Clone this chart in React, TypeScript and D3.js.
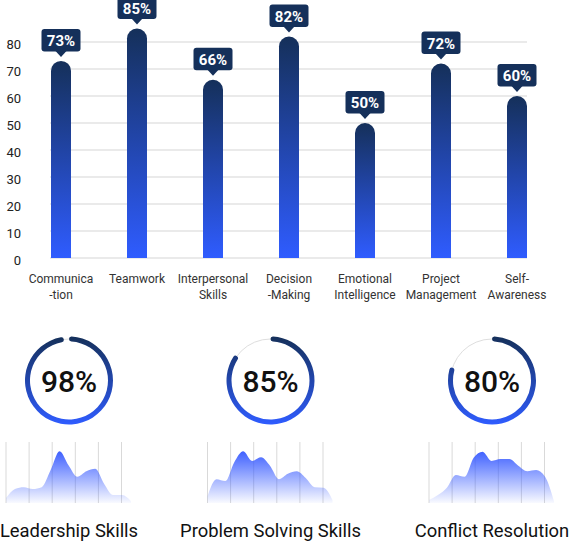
import React from "react";
import * as d3 from "d3";

const categories = [
  ["Communica", "-tion"],
  ["Teamwork"],
  ["Interpersonal", "Skills"],
  ["Decision", "-Making"],
  ["Emotional", "Intelligence"],
  ["Project", "Management"],
  ["Self-", "Awareness"],
];
const values = [73, 85, 66, 82, 50, 72, 60];
const yTicks = [0, 10, 20, 30, 40, 50, 60, 70, 80];

const gaugeTitles = ["Leadership Skills", "Problem Solving Skills", "Conflict Resolution"];
const gaugeValues = [98, 85, 80];
const sparkLeadership = [8, 23, 26, 23, 26, 54, 85, 62, 43, 52, 56, 31, 13, 13, 3];
const sparkProblem = [11, 39, 36, 67, 85, 69, 75, 61, 39, 48, 52, 41, 26, 25, 5];
const sparkConflict = [5, 13, 25, 46, 43, 74, 84, 69, 72, 72, 61, 52, 54, 43, 3];
const sparkSeries = [sparkLeadership, sparkProblem, sparkConflict];

const FONT = "Roboto, 'Noto Sans', sans-serif";
const DARK = "#15305a";
const BLUE = "#2f5cff";

export default function App() {
  const W = 570;
  const H = 542;
  const x = d3
    .scalePoint<number>()
    .domain(d3.range(categories.length))
    .range([61, 517]);
  const y = d3.scaleLinear().domain([0, 80]).range([258, 42]);
  const barW = 20;

  const colX = [69, 270.5, 492];
  const gaugeCY = 380.5;
  const gaugeR = 41.5;
  const ringW = 5;

  const sparkY = d3.scaleLinear().domain([0, 100]).range([503, 442]);

  return (
    <svg width={W} height={H} style={{ position: "absolute", left: 0, top: 0 }} fontFamily={FONT}>
      <defs>
        <linearGradient id="barGrad" x1="0" y1="0" x2="0" y2="1">
          <stop offset="0" stopColor={DARK} />
          <stop offset="1" stopColor={BLUE} />
        </linearGradient>
        <linearGradient id="ringGrad" x1="0" y1="0" x2="0" y2="1">
          <stop offset="0" stopColor={DARK} />
          <stop offset="1" stopColor={BLUE} />
        </linearGradient>
        <linearGradient id="areaGrad" gradientUnits="userSpaceOnUse" x1="0" y1="448" x2="0" y2="503">
          <stop offset="0" stopColor="#3357ff" stopOpacity="1" />
          <stop offset="1" stopColor="#3357ff" stopOpacity="0.03" />
        </linearGradient>
      </defs>

      {/* gridlines */}
      {yTicks.map((t) => (
        <g key={t}>
          <line x1={50} x2={527} y1={y(t)} y2={y(t)} stroke="#e3e3e3" strokeWidth={1.5} />
          <text x={21} y={y(t) + 6.5} textAnchor="end" fontSize={13} fill="#222">
            {t}
          </text>
        </g>
      ))}

      {/* bars */}
      {values.map((v, i) => {
        const cx = x(i)!;
        const top = y(v);
        const bottom = y(0);
        const r = barW / 2;
        const path = `M${cx - r},${bottom} L${cx - r},${top + r} A${r},${r} 0 0 1 ${cx + r},${top + r} L${cx + r},${bottom} Z`;
        const tip = top - 4;
        const boxB = tip - 5.5;
        const boxT = boxB - 22.5;
        const boxW = 39;
        return (
          <g key={i}>
            <path d={path} fill="url(#barGrad)" />
            <rect x={cx - boxW / 2} y={boxT} width={boxW} height={boxB - boxT} rx={3} fill={DARK} />
            <path d={`M${cx - 5.5},${boxB - 0.5} L${cx + 5.5},${boxB - 0.5} L${cx},${tip} Z`} fill={DARK} />
            <text x={cx} y={boxB - 5.5} textAnchor="middle" fontSize={15} fontWeight={700} fill="#fff">
              {v}%
            </text>
            {categories[i].map((line, j) => (
              <text key={j} x={cx} y={282.5 + j * 16} textAnchor="middle" fontSize={12} fill="#333">
                {line}
              </text>
            ))}
          </g>
        );
      })}

      {/* gauges */}
      {gaugeValues.map((g, i) => {
        const cx = colX[i];
        const arc = d3
          .arc<any>()
          .innerRadius(gaugeR - ringW / 2)
          .outerRadius(gaugeR + ringW / 2)
          .cornerRadius(ringW / 2)
          .startAngle(0)
          .endAngle((2 * Math.PI * g) / 100);
        const data = sparkSeries[i];
        const sx = d3
          .scaleLinear()
          .domain([0, data.length - 1])
          .range([cx - 63, cx + 62]);
        const area = d3
          .area<number>()
          .x((_, k) => sx(k))
          .y0(503)
          .y1((d) => sparkY(d))
          .curve(d3.curveMonotoneX);
        const gx0 = cx - 63;
        return (
          <g key={i}>
            <circle cx={cx} cy={gaugeCY} r={gaugeR} fill="none" stroke="#dedede" strokeWidth={1} />
            <g transform={`translate(${cx},${gaugeCY})`}>
              <path d={arc(null as any)!} fill="url(#ringGrad)" />
            </g>
            <text x={cx} y={gaugeCY + 11} textAnchor="middle" fontSize={30} fontWeight={500} fill="#111">
              {g}%
            </text>
            {d3.range(6).map((k) => (
              <line
                key={k}
                x1={gx0 + k * 23.1}
                x2={gx0 + k * 23.1}
                y1={442}
                y2={503}
                stroke="#d9d9d9"
                strokeWidth={1}
              />
            ))}
            <path d={area(data)!} fill="url(#areaGrad)" />
            <text x={cx} y={536.5} textAnchor="middle" fontSize={18.4} fill="#111">
              {gaugeTitles[i]}
            </text>
          </g>
        );
      })}
    </svg>
  );
}
